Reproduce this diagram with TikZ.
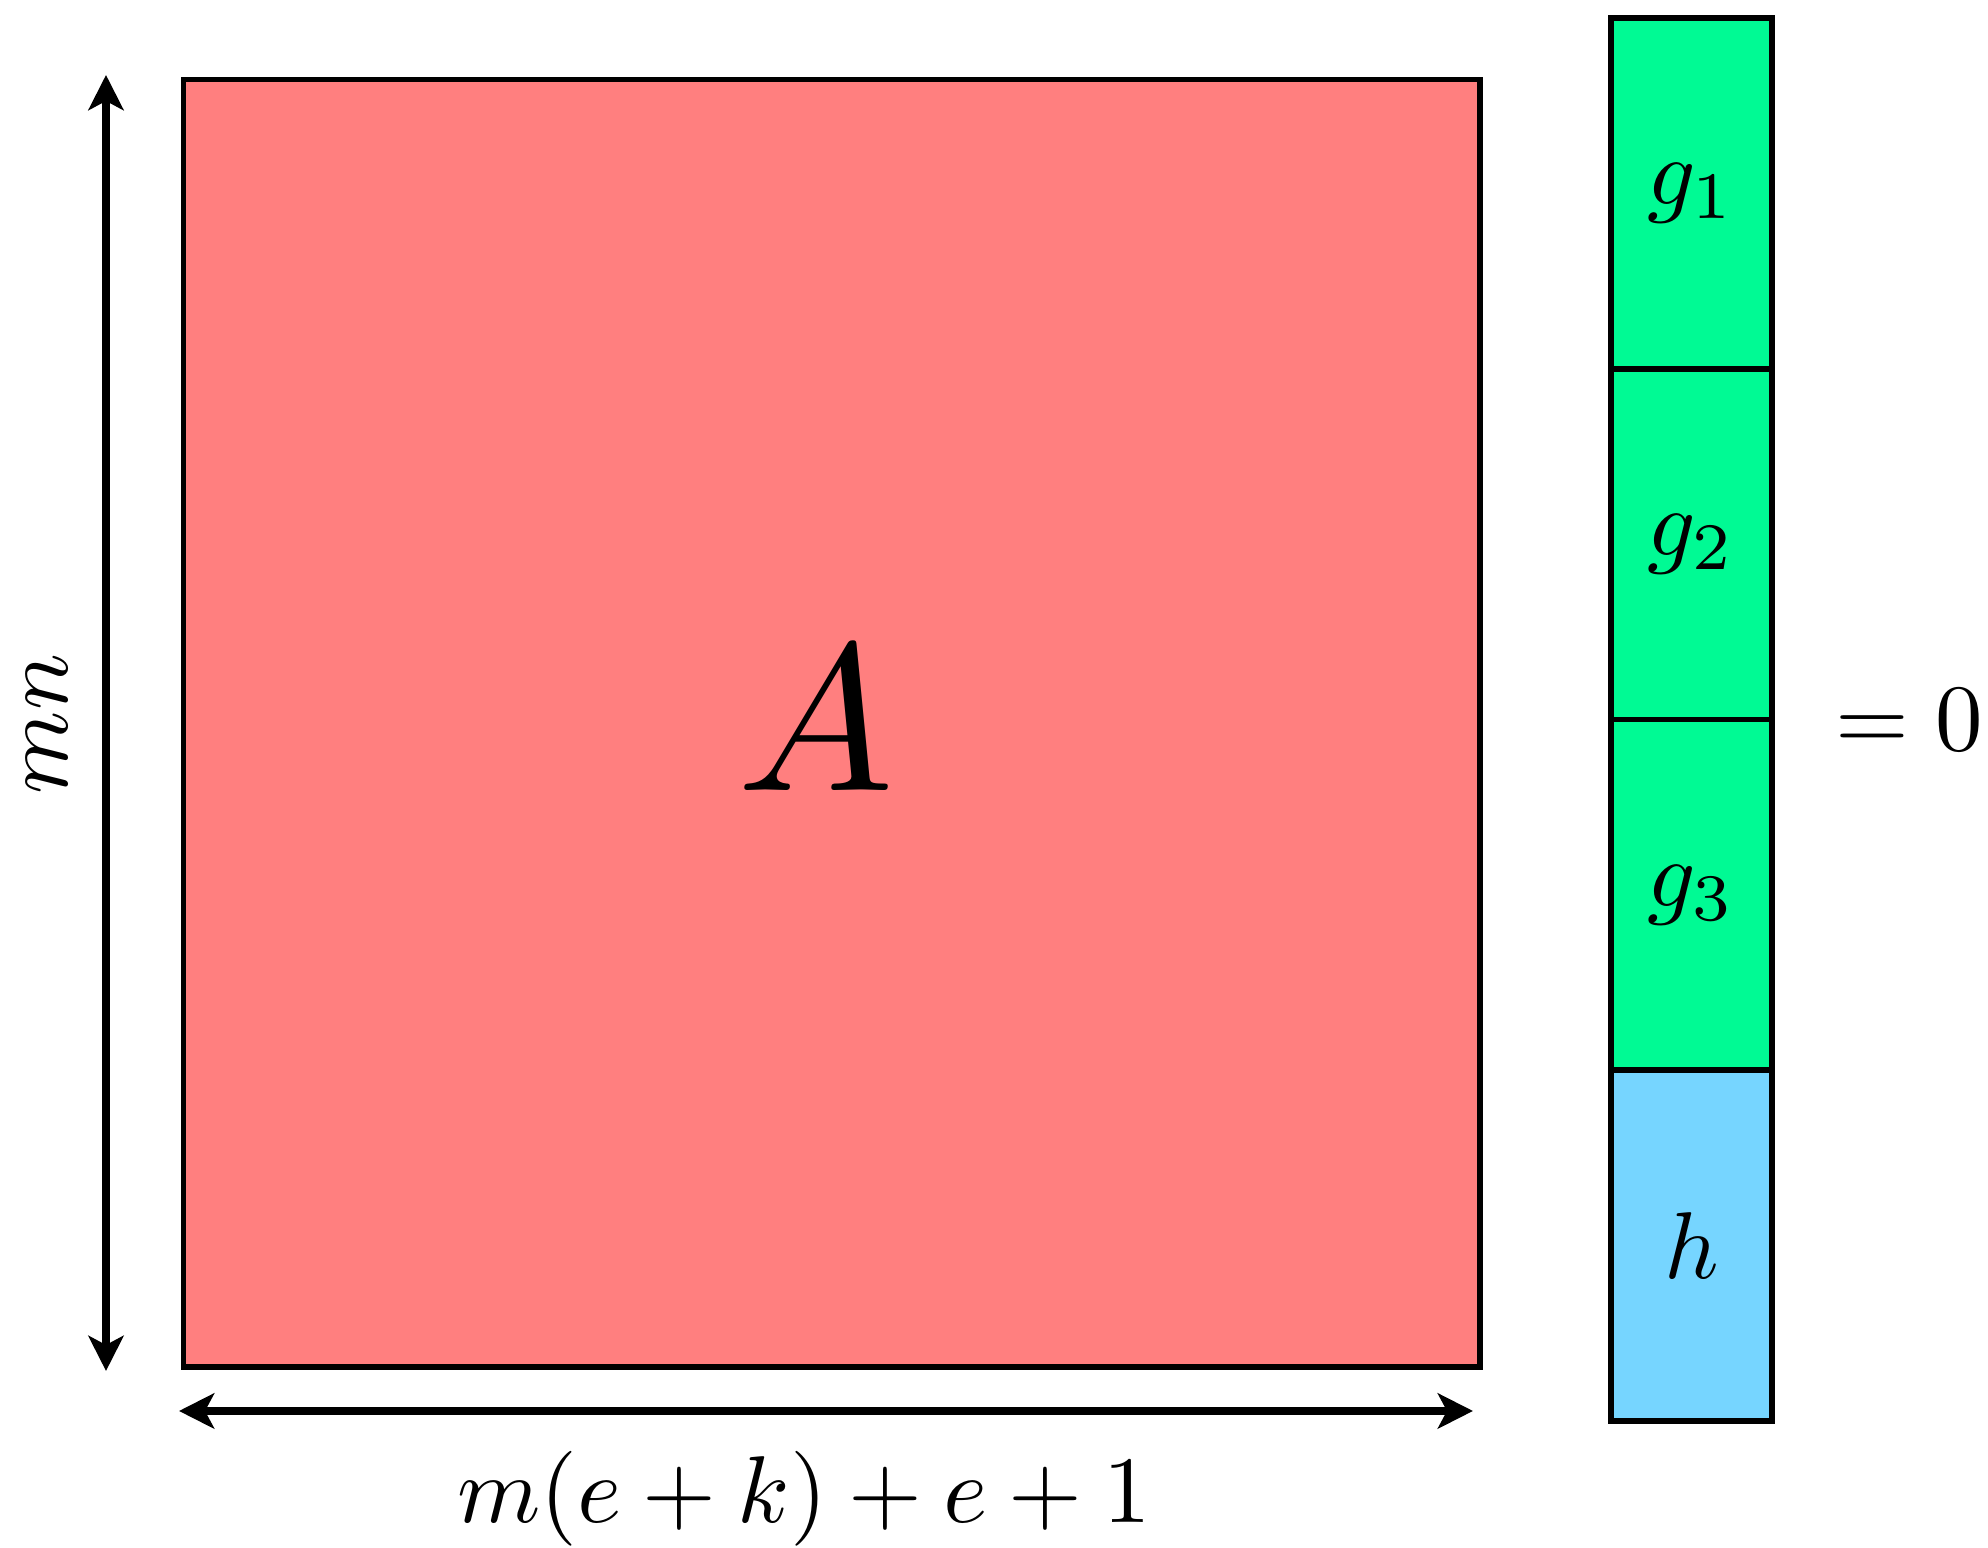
\documentclass[tikz,border=0pt]{standalone}
\usepackage{amsmath}
\usepackage{graphicx}
\usepackage{xcolor}
\usepackage{tikz}
\usetikzlibrary{positioning,arrows.meta}

\definecolor{matred}{RGB}{255,127,127}
\definecolor{vecgreen}{RGB}{0,250,148}
\definecolor{vecblue}{RGB}{118,213,255}

\newcommand{\lbl}[1]{\scalebox{2.7}{$#1$}}
\newcommand{\biglbl}[1]{\scalebox{5.95}{$#1$}}

\begin{document}
\begin{tikzpicture}[
    >={Stealth[length=10pt,width=10pt,inset=2.6pt]},
    matbox/.style={draw, line width=1.6pt, inner sep=0pt, outer sep=0pt},
    entry/.style={matbox, minimum width=1.61cm, minimum height=3.5075cm},
    dim/.style={<->, line width=2.4pt}
]
    \useasboundingbox (0,0) rectangle (19.88,15.48);

    % the matrix
    \node[matbox, fill=matred, minimum width=12.965cm, minimum height=12.875cm]
        (mat) at (8.3175,8.2475) {};
    \node (name) at (8.16,8.29) {\biglbl{A}};

    % the vector
    \node[entry, fill=vecgreen] (g1) at (16.915,13.546) {\lbl{g_1}};
    \node[entry, fill=vecgreen] (g2) [below=0pt of g1] {\lbl{g_2}};
    \node[entry, fill=vecgreen] (g3) [below=0pt of g2] {\lbl{g_3}};
    \node[entry, fill=vecblue]  (h)  [below=0pt of g3] {\lbl{h}};

    \node[inner sep=0pt] (zero) [right=0.63cm of g3.north east] {\lbl{=0}};

    % dimensions
    \coordinate (vtop) at (1.06,14.73);
    \coordinate (vbot) at (1.06,1.77);
    \coordinate (hleft) at (1.79,1.37);
    \coordinate (hright) at (14.73,1.37);
    \draw[dim] (vbot) -- (vtop);
    \draw[dim] (hleft) -- (hright);
    \node[rotate=90, inner sep=0pt] (rows) at (0.47,8.24) {\lbl{mn}};
    \node[anchor=base] (cols) at (8.04,0.25) {\lbl{m(e+k)+e+1}};
\end{tikzpicture}
\end{document}
